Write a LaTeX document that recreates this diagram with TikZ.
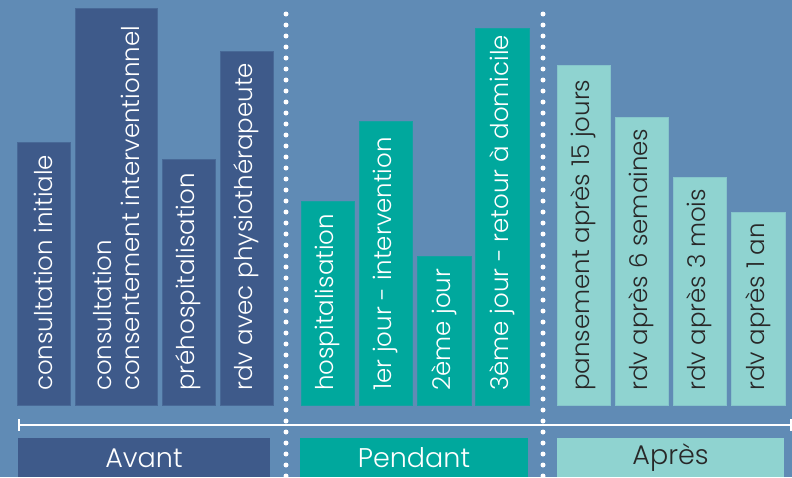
\documentclass[tikz,border=0pt]{standalone}
\usepackage{fontspec}
\setmainfont{Poppins}[UprightFont=* Light]
\definecolor{cBg}{RGB}{96,139,181}
\definecolor{cAvant}{RGB}{62,90,138}
\definecolor{cPend}{RGB}{0,168,157}
\definecolor{cApres}{RGB}{143,211,208}
\definecolor{cDark}{RGB}{40,40,40}
\tikzset{
  bar/.style={line width=1pt},
  avantbar/.style={bar, fill=cAvant, draw=cAvant!70!cBg},
  pendbar/.style={bar, fill=cPend, draw=cPend!80!cBg},
  apresbar/.style={bar, fill=cApres, draw=cApres!80!cBg},
  bartext/.style={rotate=90, anchor=west, inner sep=0pt, align=left,
    font=\fontsize{24.5}{28}\selectfont},
  whitetext/.style={bartext, text=white},
  darktext/.style={bartext, text=cDark},
  labeltext/.style={font=\fontsize{27}{30}\selectfont},
  sep/.style={white, line width=5pt, line cap=round, dash pattern=on 0pt off 11pt},
  timeline/.style={white, line width=2pt},
}
\begin{document}
\begin{tikzpicture}[x=1pt,y=-1pt]
\fill[cBg] (0,0) rectangle (792,477);
\useasboundingbox (0,0) rectangle (792,477);
% Avant bars
\draw[avantbar] (17,142) rectangle (70,405);
\draw[avantbar] (75,8) rectangle (157,405);
\draw[avantbar] (162,159) rectangle (215,405);
\draw[avantbar] (220,51) rectangle (273,405);
\node[whitetext] (a1) at (43.5,391) {consultation initiale};
\node[whitetext] (a2) at (116,391) {consultation\\consentement interventionnel};
\node[whitetext] (a3) at (188.5,391) {préhospitalisation};
\node[whitetext] (a4) at (246.5,391) {rdv avec physiothérapeute};
% Pendant bars
\draw[pendbar] (301,201) rectangle (354,405);
\draw[pendbar] (359,121) rectangle (412,405);
\draw[pendbar] (417,256) rectangle (471,405);
\draw[pendbar] (475,28) rectangle (529,405);
\node[whitetext] (p1) at (327.5,391) {hospitalisation};
\node[whitetext] (p2) at (385.5,391) {1er jour - intervention};
\node[whitetext] (p3) at (444,391) {2ème jour};
\node[whitetext] (p4) at (502,391) {3ème jour - retour à domicile};
% Apres bars
\draw[apresbar] (557,65) rectangle (610,405);
\draw[apresbar] (615,117) rectangle (668,405);
\draw[apresbar] (673,177) rectangle (726,405);
\draw[apresbar] (731,212) rectangle (785,405);
\node[darktext] (r1) at (583.5,391) {pansement après 15 jours};
\node[darktext] (r2) at (641.5,391) {rdv après 6 semaines};
\node[darktext] (r3) at (699.5,391) {rdv après 3 mois};
\node[darktext] (r4) at (758,391) {rdv après 1 an};
% timeline
\coordinate (tlL) at (19,425);
\coordinate (tlR) at (792,425);
\draw[timeline] (tlL) -- (tlR);
\draw[timeline] ([yshift=-6pt]tlL) -- ([yshift=6pt]tlL);
\draw[timeline] ([xshift=-1pt,yshift=-6pt]tlR) -- ([xshift=-1pt,yshift=6pt]tlR);
% separators
\coordinate (s1t) at (286,14);
\coordinate (s1b) at (286,480);
\coordinate (s2t) at (543,14);
\coordinate (s2b) at (543,480);
\draw[sep] (s1t) -- (s1b);
\draw[sep] (s2t) -- (s2b);
% labels
\fill[cAvant] (18,438) rectangle (270,477);
\fill[cPend] (300,438) rectangle (528,477);
\fill[cApres] (557,438) rectangle (784,477);
\node[labeltext, text=white] (lA) at (144,458) {Avant};
\node[labeltext, text=white] (lP) at (414,458) {Pendant};
\node[labeltext, text=cDark] (lR) at (670.5,458) {Après};
\end{tikzpicture}
\end{document}
